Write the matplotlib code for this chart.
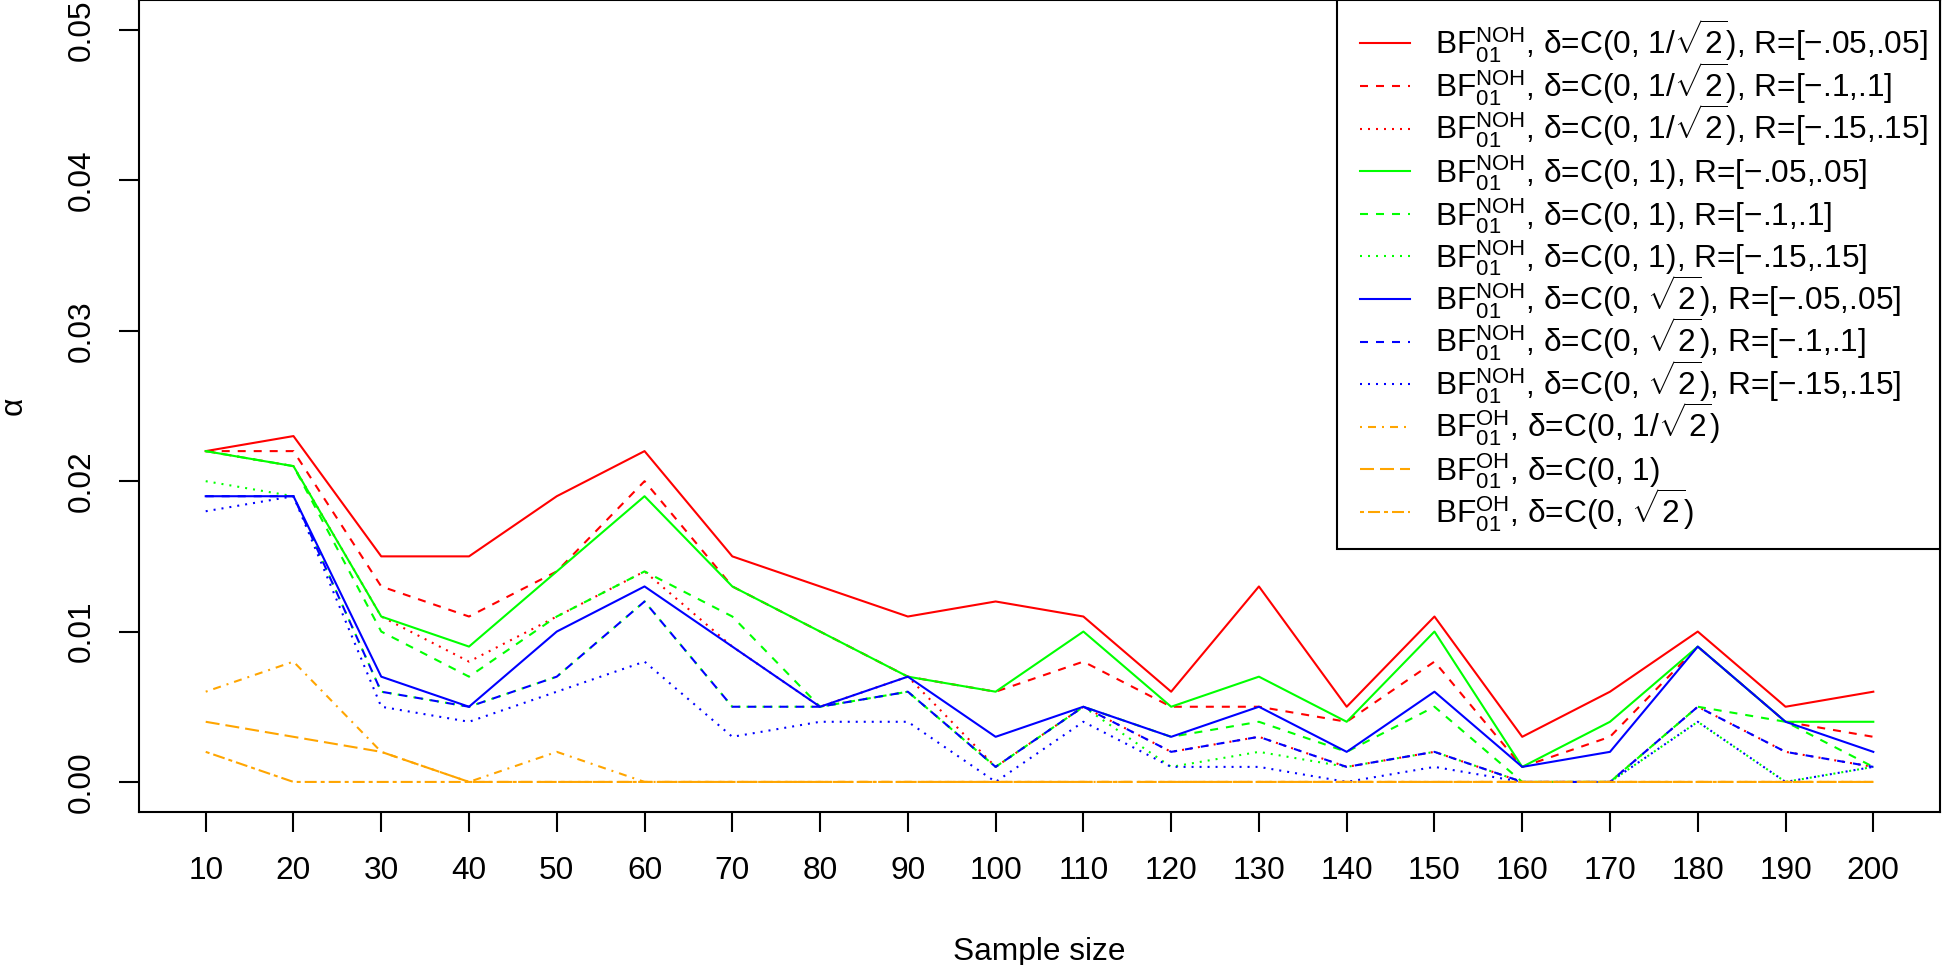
import numpy as np
import matplotlib
matplotlib.use("Agg")
import matplotlib.pyplot as plt
from matplotlib.patches import Rectangle

plt.rcParams['font.family'] = ['Liberation Sans', 'DejaVu Sans']
plt.rcParams['mathtext.fontset'] = 'custom'
plt.rcParams['mathtext.rm'] = 'Liberation Sans'
plt.rcParams['mathtext.it'] = 'Liberation Sans:italic'
plt.rcParams['mathtext.bf'] = 'Liberation Sans:bold'
plt.rcParams['mathtext.sf'] = 'Liberation Sans'
plt.rcParams['lines.scale_dashes'] = False

# sample sizes
n = [10, 20, 30, 40, 50, 60, 70, 80, 90, 100,
     110, 120, 130, 140, 150, 160, 170, 180, 190, 200]

# type I error (alpha) in units of 0.001
red_solid   = [22, 23, 15, 15, 19, 22, 15, 13, 11, 12, 11, 6, 13, 5, 11, 3, 6, 10, 5, 6]
red_dash    = [22, 22, 13, 11, 14, 20, 13, 10, 7, 6, 8, 5, 5, 4, 8, 1, 3, 9, 4, 3]
red_dot     = [22, 21, 11, 8, 11, 14, 9, 5, 7, 1, 5, 2, 3, 1, 2, 0, 0, 5, 2, 1]
green_solid = [22, 21, 11, 9, 14, 19, 13, 10, 7, 6, 10, 5, 7, 4, 10, 1, 4, 9, 4, 4]
green_dash  = [22, 21, 10, 7, 11, 14, 11, 5, 6, 1, 5, 3, 4, 2, 5, 0, 0, 5, 4, 1]
green_dot   = [20, 19, 6, 5, 7, 12, 5, 5, 6, 1, 5, 1, 2, 1, 2, 0, 0, 4, 0, 1]
blue_solid  = [19, 19, 7, 5, 10, 13, 9, 5, 7, 3, 5, 3, 5, 2, 6, 1, 2, 9, 4, 2]
blue_dash   = [19, 19, 6, 5, 7, 12, 5, 5, 6, 1, 5, 2, 3, 1, 2, 0, 0, 5, 2, 1]
blue_dot    = [18, 19, 5, 4, 6, 8, 3, 4, 4, 0, 4, 1, 1, 0, 1, 0, 0, 4, 0, 1]
oh_inv_sqrt2 = [6, 8, 2, 0, 2, 0, 0, 0, 0, 0, 0, 0, 0, 0, 0, 0, 0, 0, 0, 0]
oh_one       = [4, 3, 2, 0, 0, 0, 0, 0, 0, 0, 0, 0, 0, 0, 0, 0, 0, 0, 0, 0]
oh_sqrt2     = [2, 0, 0, 0, 0, 0, 0, 0, 0, 0, 0, 0, 0, 0, 0, 0, 0, 0, 0, 0]

series = [red_solid, red_dash, red_dot,
          green_solid, green_dash, green_dot,
          blue_solid, blue_dash, blue_dot,
          oh_inv_sqrt2, oh_one, oh_sqrt2]

labels = [
    r'$\mathrm{BF}_{01}^{\mathrm{NOH}}$, δ=C(0, 1/$\sqrt{2}$), R=[−.05,.05]',
    r'$\mathrm{BF}_{01}^{\mathrm{NOH}}$, δ=C(0, 1/$\sqrt{2}$), R=[−.1,.1]',
    r'$\mathrm{BF}_{01}^{\mathrm{NOH}}$, δ=C(0, 1/$\sqrt{2}$), R=[−.15,.15]',
    r'$\mathrm{BF}_{01}^{\mathrm{NOH}}$, δ=C(0, 1), R=[−.05,.05]',
    r'$\mathrm{BF}_{01}^{\mathrm{NOH}}$, δ=C(0, 1), R=[−.1,.1]',
    r'$\mathrm{BF}_{01}^{\mathrm{NOH}}$, δ=C(0, 1), R=[−.15,.15]',
    r'$\mathrm{BF}_{01}^{\mathrm{NOH}}$, δ=C(0, $\sqrt{2}$), R=[−.05,.05]',
    r'$\mathrm{BF}_{01}^{\mathrm{NOH}}$, δ=C(0, $\sqrt{2}$), R=[−.1,.1]',
    r'$\mathrm{BF}_{01}^{\mathrm{NOH}}$, δ=C(0, $\sqrt{2}$), R=[−.15,.15]',
    r'$\mathrm{BF}_{01}^{\mathrm{OH}}$, δ=C(0, 1/$\sqrt{2}$)',
    r'$\mathrm{BF}_{01}^{\mathrm{OH}}$, δ=C(0, 1)',
    r'$\mathrm{BF}_{01}^{\mathrm{OH}}$, δ=C(0, $\sqrt{2}$)',
]

colors = ['#FF0000'] * 3 + ['#00FF00'] * 3 + ['#0000FF'] * 3 + ['#FFA500'] * 3

# R style line types, one unit = 2 px = 1.44 pt
u = 1.44
lty = {
    'solid': None,
    'dashed': (0, (4 * u, 4 * u)),
    'dotted': (0, (1 * u, 3 * u)),
    'dotdash': (0, (1 * u, 3 * u, 4 * u, 3 * u)),
    'longdash': (0, (7 * u, 3 * u)),
    'twodash': (0, (2 * u, 2 * u, 6 * u, 2 * u)),
}
styles = ['solid', 'dashed', 'dotted'] * 3 + ['dotdash', 'longdash', 'twodash']

W, H = 1947, 965
L, R, T, B = 139, 1940, 0, 812   # plot box in pixels
lw = 1.5
fs = 22.8

fig = plt.figure(figsize=(W / 100, H / 100), dpi=100)
ax = fig.add_axes([L / W, (H - B) / H, (R - L) / W, (B - T) / H])


def ls_of(name):
    return '-' if lty[name] is None else lty[name]


for vals, c, s in zip(series, colors, styles):
    y = np.array(vals) * 0.001
    ax.plot(n, y, color=c, lw=lw, linestyle=ls_of(s), dash_capstyle='butt')

ax.set_xlim(2.4, 207.6)
ax.set_ylim(-0.002, 0.052)
ax.set_xticks(n)
ax.set_xticklabels([str(v) for v in n])
yt = [0.0, 0.01, 0.02, 0.03, 0.04, 0.05]
ax.set_yticks(yt)
ax.set_yticklabels(['%.2f' % v for v in yt], rotation=90, va='center')
ax.tick_params(length=14.4, width=lw, direction='out', labelsize=fs, pad=17.5)
ax.tick_params(axis='y', pad=16)
for sp in ax.spines.values():
    sp.set_linewidth(lw)

fig.text(((L + R) / 2) / W, 5 / H, 'Sample size', ha='center', va='baseline', fontsize=fs)
fig.text(14 / W, (H - 406) / H, 'α', ha='center', va='center', rotation=90, fontsize=fs)


# legend, drawn the way R's legend() lays it out
def axx(px):
    return (px - L) / (R - L)


def axy(py):
    return (B - py) / (B - T)


box = Rectangle((axx(1337), axy(549)), axx(R) - axx(1337), axy(T) - axy(549),
                transform=ax.transAxes, facecolor='white', edgecolor='black',
                lw=lw, zorder=5, clip_on=False)
ax.add_patch(box)
for i, (lab, c, s) in enumerate(zip(labels, colors, styles)):
    yc = 43.3 + i * 42.6
    ax.plot([axx(1360), axx(1410)], [axy(yc), axy(yc)], transform=ax.transAxes,
            color=c, lw=lw, linestyle=ls_of(s), dash_capstyle='butt', zorder=6, clip_on=False)
    ax.text(axx(1435), axy(yc + 11.3), lab, transform=ax.transAxes, fontsize=fs,
            ha='left', va='baseline', zorder=6)

fig.savefig('out.png', dpi=100)
